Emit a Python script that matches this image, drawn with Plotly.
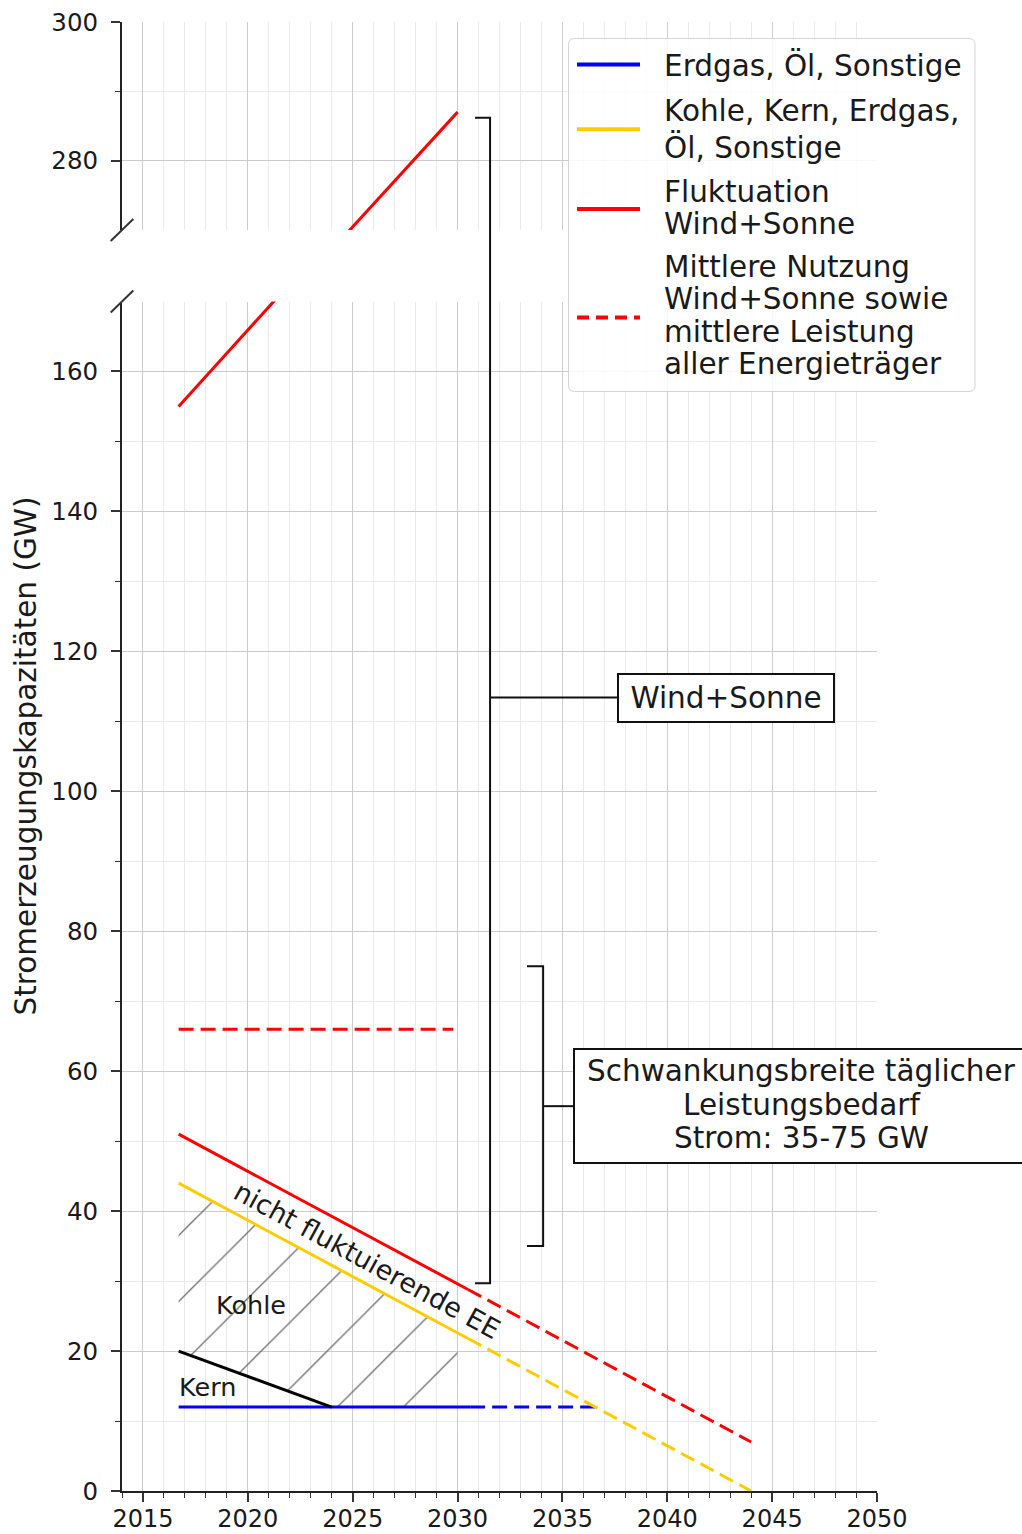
import plotly.graph_objects as go

# ---------------- data (GW over years) ----------------
erdgas_solid_x = [2016.7, 2030.6]
erdgas_solid_y = [12, 12]
erdgas_dash_x = [2030.6, 2036.8]
erdgas_dash_y = [12, 12]

konv_solid_x = [2016.7, 2030.5]
konv_solid_y = [44, 21.8]
konv_dash_x = [2030.5, 2044.0]
konv_dash_y = [21.8, 0]

nfee_solid_x = [2016.7, 2030.5]
nfee_solid_y = [51, 28.8]
nfee_dash_x = [2030.5, 2044.0]
nfee_dash_y = [28.8, 7]

mittel_x = [2016.7, 2029.8]
mittel_y = [66, 66]

kern_x = [2016.7, 2024.0]
kern_y = [20, 12]

wind_low_x = [2016.7, 2030.0]
wind_low_y = [155, 199]
wind_up_x = [2016.7, 2030.0]
wind_up_y = [243, 287]

kohle_x = [2016.7, 2016.7, 2030.0, 2030.0, 2024.0, 2016.7]
kohle_y = [20, 44, 22.6, 12, 12, 20]

demand_range = [35, 75]
wind_bracket = [29.7, 286.2]

legend_names = [["Erdgas, Öl, Sonstige"],
                ["Kohle, Kern, Erdgas,", "Öl, Sonstige"],
                ["Fluktuation", "Wind+Sonne"],
                ["Mittlere Nutzung", "Wind+Sonne sowie", "mittlere Leistung", "aller Energieträger"]]

# ---------------- layout geometry ----------------
W, H = 1022, 1534
ML, MR, MT, MB = 122, 145, 22, 43
PW, PH = W - ML - MR, H - MT - MB
X_RANGE = [2014, 2050]
LOW_RANGE = [0, 170]
UP_RANGE = [270, 300]
LOW_DOM = [0, (1491 - 301.5) / PH]
UP_DOM = [(1491 - 230) / PH, 1]

FONT = "DejaVu Sans"
TXT = "#1a1a1a"
BLUE, YELLOW, RED = "#0000ff", "#ffcc00", "#ff0000"
DASH = "15px,7px"


def xp(v):
    return (v - X_RANGE[0]) / (X_RANGE[1] - X_RANGE[0])


def yp(v):
    if v >= UP_RANGE[0]:
        return UP_DOM[0] + (v - UP_RANGE[0]) / (UP_RANGE[1] - UP_RANGE[0]) * (UP_DOM[1] - UP_DOM[0])
    return LOW_DOM[0] + (v - LOW_RANGE[0]) / (LOW_RANGE[1] - LOW_RANGE[0]) * (LOW_DOM[1] - LOW_DOM[0])


def px_x(p):   # pixel column -> paper x
    return (p - ML) / PW


def px_y(p):   # pixel row -> paper y
    return (H - MB - p) / PH


fig = go.Figure()


def line(x, y, color, dash="solid", name=None, axes=("x", "y"), width=3):
    fig.add_trace(go.Scatter(x=x, y=y, mode="lines", name=name, showlegend=False,
                             line=dict(color=color, width=width, dash=dash),
                             xaxis=axes[0], yaxis=axes[1], hoverinfo="skip"))


# hatched Kohle area
fig.add_trace(go.Scatter(x=kohle_x, y=kohle_y, mode="lines", fill="toself", name="Kohle",
                         fillcolor="rgba(0,0,0,0)", line=dict(width=0),
                         fillpattern=dict(shape="/", size=46.7, solidity=0.028,
                                          fgcolor="#6e6e6e", fillmode="replace"),
                         showlegend=False, hoverinfo="skip"))

line(erdgas_solid_x, erdgas_solid_y, BLUE, name="Erdgas, Öl, Sonstige")
line(erdgas_dash_x, erdgas_dash_y, BLUE, dash=DASH)
line(konv_solid_x, konv_solid_y, YELLOW, name="Kohle, Kern, Erdgas, Öl, Sonstige")
line(konv_dash_x, konv_dash_y, YELLOW, dash=DASH)
line(nfee_solid_x, nfee_solid_y, RED, name="Fluktuation Wind+Sonne")
line(nfee_dash_x, nfee_dash_y, RED, dash=DASH)
line(mittel_x, mittel_y, RED, dash=DASH, name="Mittlere Nutzung")
line(kern_x, kern_y, "#000000", name="Kern")
line(wind_low_x, wind_low_y, RED)
line(wind_up_x, wind_up_y, RED, axes=("x2", "y2"))

grid_major = "#cccccc"
grid_minor = "#eaeaea"
tick_col = "#333333"

fig.update_layout(
    template="none",
    width=W, height=H,
    margin=dict(l=ML, r=MR, t=MT, b=MB, pad=0, autoexpand=False),
    paper_bgcolor="white", plot_bgcolor="white",
    font=dict(family=FONT, color=TXT, size=29.5),
    showlegend=False,
    xaxis=dict(domain=[0, 1], range=X_RANGE, anchor="y", tick0=2015, dtick=5, automargin=False,
               ticks="outside", ticklen=9, tickwidth=1.5, tickcolor=tick_col,
               showline=True, linecolor="#222", linewidth=2, zeroline=False,
               showgrid=True, gridcolor=grid_major, gridwidth=1,
               tickfont=dict(size=24, color=TXT), ticklabelstandoff=-4,
               minor=dict(dtick=1, tick0=2014, ticks="outside", ticklen=5, tickwidth=1.2,
                          tickcolor=tick_col, showgrid=True, gridcolor=grid_minor)),
    xaxis2=dict(domain=[0, 1], range=X_RANGE, anchor="y2", matches="x", tick0=2015, dtick=5,
                automargin=False, showticklabels=False, ticks="", showline=False, zeroline=False,
                showgrid=True, gridcolor=grid_major, gridwidth=1,
                minor=dict(dtick=1, tick0=2014, ticks="", showgrid=True, gridcolor=grid_minor)),
    yaxis=dict(domain=LOW_DOM, range=LOW_RANGE, anchor="x", tick0=0, dtick=20, automargin=False,
               ticks="outside", ticklen=9, tickwidth=1.5, tickcolor=tick_col,
               showline=True, linecolor="#222", linewidth=2, zeroline=False,
               showgrid=True, gridcolor=grid_major, gridwidth=1,
               tickfont=dict(size=24.5, color=TXT), ticklabelstandoff=8,
               minor=dict(tickvals=list(range(10, 170, 20)), ticks="outside", ticklen=5,
                          tickwidth=1.2, tickcolor=tick_col, showgrid=True, gridcolor=grid_minor)),
    yaxis2=dict(domain=UP_DOM, range=UP_RANGE, anchor="x2", tick0=0, dtick=20, automargin=False,
                ticks="outside", ticklen=9, tickwidth=1.5, tickcolor=tick_col,
                showline=True, linecolor="#222", linewidth=2, zeroline=False,
                showgrid=True, gridcolor=grid_major, gridwidth=1,
                tickfont=dict(size=24.5, color=TXT), ticklabelstandoff=8,
                minor=dict(tickvals=[290], ticks="outside", ticklen=5, tickwidth=1.2,
                           tickcolor=tick_col, showgrid=True, gridcolor=grid_minor)),
)

shapes = []
ann = []
# broken-axis markers
for yb in (UP_DOM[0], LOW_DOM[1]):
    shapes.append(dict(type="line", xref="paper", yref="paper",
                       x0=-11.3 / PW, x1=11.3 / PW, y0=yb - 11 / PH, y1=yb + 11 / PH,
                       line=dict(color="#333", width=2)))

# Wind+Sonne bracket
bx, btick = 2031.55, 2030.83
wy0, wy1 = yp(wind_bracket[0]), yp(wind_bracket[1])
wmid = px_y(697.5)
shapes.append(dict(type="path", xref="paper", yref="paper",
                   path=f"M{xp(btick)},{wy1} L{xp(bx)},{wy1} L{xp(bx)},{wy0} L{xp(btick)},{wy0}",
                   line=dict(color="#111", width=2)))
shapes.append(dict(type="line", xref="paper", yref="paper",
                   x0=xp(bx), x1=px_x(618), y0=wmid, y1=wmid,
                   line=dict(color="#111", width=2)))

# demand bracket
dx, dtick = 2034.08, 2033.31
dy0, dy1 = yp(demand_range[0]), yp(demand_range[1])
dmid = (dy0 + dy1) / 2
shapes.append(dict(type="path", xref="paper", yref="paper",
                   path=f"M{xp(dtick)},{dy1} L{xp(dx)},{dy1} L{xp(dx)},{dy0} L{xp(dtick)},{dy0}",
                   line=dict(color="#111", width=2)))
shapes.append(dict(type="line", xref="paper", yref="paper",
                   x0=xp(dx), x1=px_x(574), y0=dmid, y1=dmid,
                   line=dict(color="#111", width=2)))
shapes.append(dict(type="rect", xref="paper", yref="paper",
                   x0=px_x(574), x1=px_x(1032), y0=px_y(1163), y1=px_y(1049),
                   line=dict(color="#111", width=2), fillcolor="white"))

# ---- legend (drawn as box + sample lines + text) ----
L0, T0, R0, B0, rad = 568.5, 38.5, 975, 391.5, 6
lx0, lx1, rx, ry = px_x(L0), px_x(R0), rad / PW, rad / PH
ly1, ly0 = px_y(T0), px_y(B0)
shapes.append(dict(type="path", xref="paper", yref="paper", layer="above",
                   path=(f"M{lx0 + rx},{ly1} L{lx1 - rx},{ly1} Q{lx1},{ly1} {lx1},{ly1 - ry} "
                         f"L{lx1},{ly0 + ry} Q{lx1},{ly0} {lx1 - rx},{ly0} "
                         f"L{lx0 + rx},{ly0} Q{lx0},{ly0} {lx0},{ly0 + ry} "
                         f"L{lx0},{ly1 - ry} Q{lx0},{ly1} {lx0 + rx},{ly1} Z"),
                   fillcolor="rgba(255,255,255,0.85)", line=dict(color="#d4d4d4", width=1)))
legend_colors = [BLUE, YELLOW, RED, RED]
legend_dash = ["solid", "solid", "solid", "12px,7px"]
legend_sym_y = [64.5, 129.3, 209, 317.5]
legend_txt_y = [[65], [111.5, 147], [191.5, 223.5], [267, 299, 331.5, 363.5]]
for col, dsh, sy, names, tys in zip(legend_colors, legend_dash, legend_sym_y, legend_names, legend_txt_y):
    shapes.append(dict(type="line", xref="paper", yref="paper", layer="above",
                       x0=px_x(577), x1=px_x(640), y0=px_y(sy), y1=px_y(sy),
                       line=dict(color=col, width=4, dash=dsh)))
    for nm, ty in zip(names, tys):
        ann.append(dict(text=nm, xref="paper", yref="paper", x=px_x(662), y=px_y(ty),
                        xanchor="left", yanchor="middle", showarrow=False,
                        font=dict(size=29.5, color=TXT)))
fig.update_layout(shapes=shapes)

ann.append(dict(text="Stromerzeugungskapazitäten (GW)", xref="paper", yref="paper",
                x=px_x(25), y=0.5, textangle=-90, showarrow=False,
                font=dict(size=29.5, color=TXT), xanchor="center", yanchor="middle"))
ann.append(dict(text="Wind+Sonne", xref="paper", yref="paper", x=px_x(725.5), y=wmid,
                xanchor="center", yanchor="middle",
                showarrow=False, font=dict(size=29.5, color=TXT), bgcolor="white",
                bordercolor="#111", borderwidth=2, borderpad=4, width=206, height=38))
for txt, yv in (("Schwankungsbreite täglicher", 60.0), ("Leistungsbedarf", 55.2),
                ("Strom: 35-75 GW", 50.4)):
    ann.append(dict(text=txt, xref="paper", yref="paper", x=px_x(801), y=yp(yv),
                    showarrow=False, font=dict(size=29.5, color=TXT),
                    xanchor="center", yanchor="middle"))
ann.append(dict(text="nicht fluktuierende EE", x=2025.7, y=32.9, xref="x", yref="y",
                textangle=28.5, showarrow=False, font=dict(size=27, color=TXT)))
ann.append(dict(text="Kohle", x=2020.14, y=26.6, xref="x", yref="y",
                showarrow=False, font=dict(size=25.5, color=TXT)))
ann.append(dict(text="Kern", x=2018.1, y=14.9, xref="x", yref="y",
                showarrow=False, font=dict(size=25.5, color=TXT)))
fig.update_layout(annotations=ann)

fig.write_html(
    "out.html",
    config={"displayModeBar": False},
    post_script=("var gd=document.getElementById('{plot_id}');"
                 "document.documentElement.style.margin='0';"
                 "document.body.style.margin='0';document.body.style.overflow='hidden';"
                 "gd.style.position='absolute';gd.style.left='0px';gd.style.top='0px';"),
)
